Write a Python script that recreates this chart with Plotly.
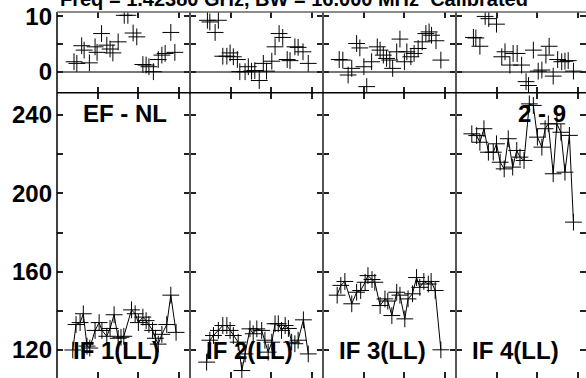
import plotly.graph_objects as go

# ---------------- data ----------------
# upper strip (phase-like residuals) per column
top1_t = [0.42, 0.49, 0.61, 0.67, 0.80, 0.94, 0.99, 1.10, 1.23, 1.31, 1.38, 1.51, 1.66, 1.75, 1.88, 1.97, 2.12, 2.20, 2.27, 2.38, 2.50, 2.59, 2.67, 2.81, 2.91]
top1_v = [1.8, 1.5, 4.7, 3.9, 1.6, 4.5, 3.5, 6.9, 4.8, 4.1, 3.4, 5.4, 10.2, 10.2, 7.0, 6.3, 1.3, 1.2, 0.9, 0.0, 2.2, 3.0, 3.3, 7.1, 3.5]

top2_t = [0.43, 0.49, 0.62, 0.70, 0.81, 0.91, 0.99, 1.07, 1.17, 1.23, 1.36, 1.44, 1.52, 1.60, 1.71, 1.81, 1.89, 2.02, 2.10, 2.20, 2.29, 2.40, 2.47, 2.59, 2.67, 2.79, 2.92]
top2_v = [9.3, 9.0, 7.1, 9.3, 2.8, 2.8, 3.4, 2.7, 2.2, 0.0, 0.0, 0.9, 0.1, 0.2, -1.6, 1.5, 0.1, 1.9, 4.5, 6.9, 6.2, 2.2, 2.0, 4.5, 4.4, 3.6, 1.5]

top3_t = [0.40, 0.49, 0.62, 0.71, 0.83, 0.91, 1.01, 1.08, 1.20, 1.34, 1.41, 1.49, 1.57, 1.65, 1.72, 1.82, 1.90, 2.01, 2.07, 2.17, 2.25, 2.35, 2.45, 2.54, 2.62, 2.68, 2.79, 2.91]
top3_v = [2.2, 2.1, -0.6, 0.6, 5.1, 4.3, 0.9, -2.7, 1.8, 4.5, 3.9, 3.0, 2.4, 2.1, 0.6, 3.6, 5.9, 1.8, 3.6, 2.7, 3.3, 4.2, 5.4, 6.9, 7.2, 6.6, 5.6, 2.1]

top4_t = [0.43, 0.49, 0.59, 0.72, 0.81, 1.00, 1.13, 1.21, 1.33, 1.41, 1.51, 1.62, 1.73, 1.79, 1.91, 2.03, 2.12, 2.22, 2.30, 2.40, 2.51, 2.61, 2.69, 2.77, 2.90]
top4_v = [6.2, 6.1, 4.6, 10.0, 9.6, 8.6, 2.7, 3.6, 1.2, 3.3, 3.3, 1.2, -1.8, -2.5, 3.9, 0.1, 0.3, 3.0, 4.6, -0.8, 2.2, 1.8, 1.9, 2.0, 0.1]

# lower panels (amplitude-like)
low1_t = [0.39, 0.47, 0.57, 0.65, 0.74, 0.81, 0.94, 1.04, 1.11, 1.23, 1.31, 1.41, 1.51, 1.58, 1.65, 1.84, 1.93, 2.01, 2.12, 2.20, 2.27, 2.36, 2.43, 2.50, 2.59, 2.71, 2.81, 2.94]
low1_v = [120, 133, 134, 138.5, 122, 121, 130, 134, 130, 127, 131, 138, 126, 126.5, 127, 140.5, 138.5, 134, 136.8, 135, 133, 130, 126, 123, 128, 133, 148, 129]

low2_t = [0.41, 0.49, 0.58, 0.70, 0.81, 0.91, 0.99, 1.07, 1.19, 1.28, 1.36, 1.48, 1.56, 1.65, 1.77, 1.85, 1.93, 2.02, 2.10, 2.18, 2.26, 2.35, 2.43, 2.51, 2.59, 2.67, 2.80, 2.92]
low2_v = [113.8, 125, 127.4, 130, 132.5, 132.5, 130, 127.4, 124, 109.5, 118, 130.8, 128.3, 130.8, 130, 125, 118.9, 124, 133.4, 133.4, 130, 132.5, 131, 124, 123.2, 125, 135.4, 118]

low3_t = [0.35, 0.44, 0.54, 0.71, 0.83, 0.93, 1.04, 1.11, 1.21, 1.28, 1.41, 1.53, 1.60, 1.70, 1.82, 1.90, 2.02, 2.10, 2.21, 2.31, 2.39, 2.49, 2.60, 2.67, 2.77, 2.91]
low3_v = [148, 153, 155, 143.6, 149.5, 150.4, 154.6, 158, 156, 154.6, 142.7, 146.1, 145, 137.6, 149.5, 148, 135.9, 146.1, 148.7, 157, 152, 155, 153.7, 155, 150.4, 120.1]

low4_t = [0.39, 0.51, 0.59, 0.69, 0.80, 0.92, 1.00, 1.09, 1.19, 1.29, 1.40, 1.50, 1.58, 1.68, 1.81, 1.91, 2.01, 2.12, 2.20, 2.28, 2.40, 2.49, 2.59, 2.69, 2.80, 2.90]
low4_v = [230.4, 229.5, 226.1, 233, 221, 221, 225.3, 215.9, 212.5, 227.9, 213.4, 221.9, 218.5, 216.8, 245.7, 244.9, 228.7, 223.6, 233, 235.5, 210, 235.5, 231.2, 210.8, 229.6, 185.3]

panel_labels = ["IF 1(LL)", "IF 2(LL)", "IF 3(LL)", "IF 4(LL)"]
baseline_labels = ["EF - NL", "2 - 9"]
title_text = "Freq = 1.42380 GHz, BW = 16.000 MHz  Calibrated"

top_ticks = [0, 5, 10]
top_ticktext = ["0", "", "10"]
low_ticks = [120, 140, 160, 180, 200, 220, 240]
low_ticktext = ["120", "", "160", "", "200", "", "240"]
x_ticks = [1, 2, 3]

# ---------------- layout geometry ----------------
W, H = 586, 378
ML, MT = 57, 12
PW, PH = W - ML, H - MT
col_edges_px = [57, 190, 323, 456, 586]
xdom = [((col_edges_px[i] - ML) / PW, (col_edges_px[i + 1] - ML) / PW) for i in range(4)]
split = 1 - (92.7 - MT) / PH
top_dom = [split, 1.0]
low_dom = [0.0, split]
top_range = [-3.8, 10.8]
low_range = [105.7, 251.4]
x_ranges = [[0, 3.284], [0, 3.284], [0, 3.284], [0, 130 / 40.5]]

FONT = "Liberation Sans, Arial, sans-serif"
marker = dict(symbol="cross-thin", size=12, line=dict(width=1, color="black"), color="black")

fig = go.Figure()
tops = [(top1_t, top1_v), (top2_t, top2_v), (top3_t, top3_v), (top4_t, top4_v)]
lows = [(low1_t, low1_v), (low2_t, low2_v), (low3_t, low3_v), (low4_t, low4_v)]

layout = dict(
    width=W, height=H, margin=dict(l=ML, r=0, t=MT, b=0),
    paper_bgcolor="white", plot_bgcolor="white", showlegend=False,
    font=dict(family=FONT, size=22, color="black"),
)

tick_col = "#222"
for i in range(4):
    xi_top = i + 1
    xi_low = i + 5
    fig.add_trace(go.Scatter(x=tops[i][0], y=tops[i][1], mode="markers", marker=marker,
                             xaxis=f"x{xi_top if xi_top > 1 else ''}", yaxis=f"y{xi_top if xi_top > 1 else ''}"))
    fig.add_trace(go.Scatter(x=lows[i][0], y=lows[i][1], mode="lines+markers", marker=marker,
                             line=dict(color="black", width=1),
                             xaxis=f"x{xi_low}", yaxis=f"y{xi_low}"))
    for xi, ydom, yr, tv, tt in [(xi_top, top_dom, top_range, top_ticks, top_ticktext),
                                 (xi_low, low_dom, low_range, low_ticks, low_ticktext)]:
        xname = "xaxis" if xi == 1 else f"xaxis{xi}"
        yname = "yaxis" if xi == 1 else f"yaxis{xi}"
        sfx = "" if xi == 1 else str(xi)
        layout[xname] = dict(domain=list(xdom[i]), range=x_ranges[i], anchor=f"y{sfx}",
                             tickvals=x_ticks, showticklabels=False, ticks="inside", ticklen=6,
                             tickwidth=1.5, tickcolor=tick_col, mirror="ticks", showline=False,
                             showgrid=False, zeroline=False, fixedrange=True)
        layout[yname] = dict(domain=ydom, range=yr, anchor=f"x{sfx}",
                             tickvals=tv, ticktext=tt, showticklabels=(i == 0),
                             ticks="inside", ticklen=6, tickwidth=1.5, tickcolor=tick_col,
                             mirror="ticks", showline=False, showgrid=False,
                             zeroline=(yr is top_range), zerolinecolor="#777", zerolinewidth=1.5,
                             tickfont=dict(family=FONT, size=24, color="black", weight="bold"),
                             ticklabelstandoff=4, fixedrange=True)

fig.update_layout(**layout)

# frame lines
shapes = []
shapes.append(dict(type="line", xref="paper", yref="paper", x0=0, x1=0, y0=0, y1=1,
                   line=dict(color="black", width=1.5)))
for i in range(1, 4):
    shapes.append(dict(type="line", xref="paper", yref="paper", x0=xdom[i][0], x1=xdom[i][0], y0=0, y1=1,
                       line=dict(color="#555", width=2)))
shapes.append(dict(type="line", xref="paper", yref="paper", x0=0, x1=1, y0=split, y1=split,
                   line=dict(color="black", width=1.5)))
shapes.append(dict(type="line", xref="paper", yref="paper", x0=0, x1=1, y0=1, y1=1,
                   line=dict(color="#666", width=1.5)))
fig.update_layout(shapes=shapes)

# annotations
ann = []
lab_font = dict(family=FONT, size=24, color="black", weight="bold")
for i, lab in enumerate(panel_labels):
    ann.append(dict(text=lab, xref=f"x{i + 5}", yref=f"y{i + 5}", x=14 / 40.5, y=119.5,
                    xanchor="left", yanchor="middle", showarrow=False, font=lab_font))
ann.append(dict(text=baseline_labels[0], xref="x5", yref="y5", x=24 / 40.5, y=241,
                xanchor="left", yanchor="middle", showarrow=False, font=lab_font))
ann.append(dict(text=baseline_labels[1], xref="x8", yref="y8", x=112 / 40.5, y=241,
                xanchor="right", yanchor="middle", showarrow=False, font=lab_font))
ann.append(dict(text=title_text, xref="paper", yref="paper", x=1 / PW, y=1 + 13 / PH,
                xanchor="left", yanchor="middle", showarrow=False,
                font=dict(family=FONT, size=20, color="black", weight="bold")))
fig.update_layout(annotations=ann)

fig.write_html("out.html", config={"displayModeBar": False},
               post_script="document.body.style.margin='0';document.body.style.overflow='hidden';")
